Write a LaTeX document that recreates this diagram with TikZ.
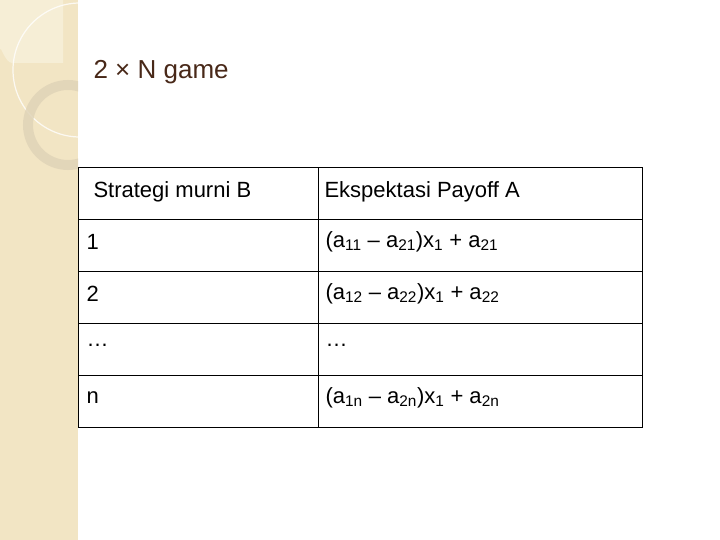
\documentclass[tikz,border=0pt]{standalone}
\usepackage{fontspec}
\setmainfont{Liberation Sans}
\definecolor{stripbg}{RGB}{242,229,196}
\definecolor{stripsq}{RGB}{246,238,214}
\definecolor{ringgray}{RGB}{224,212,184}
\definecolor{titlebrown}{RGB}{72,40,24}
\newcommand{\sbs}[1]{\textsubscript{#1}}
\begin{document}
\begin{tikzpicture}[x=1pt,y=-1pt,
	cell/.style={draw=black,line width=1pt,minimum width=240pt,minimum height=52pt,
		anchor=north west,inner sep=0pt},
	celltext/.style={anchor=west,font=\fontsize{22pt}{26pt}\selectfont}]
	\useasboundingbox (0,0) rectangle (720,540);
	%side strip
	\fill[stripbg] (0,0) rectangle (78,540);
	\begin{scope}
		\clip (0,0) rectangle (78,540);
		\fill[stripsq] (0,0) -- (63,0) -- (63,63) -- (12,63) to[out=180,in=90] (0,50) -- cycle;
		\draw[white,line width=1.2pt,opacity=.8] (80,70) circle (67);
		\draw[ringgray,line width=10pt,opacity=.85] (68,125) circle (40);
	\end{scope}
	%title
	\node[anchor=west,text=titlebrown,font=\fontsize{26pt}{30pt}\selectfont] (title) at (90,72) {2 × N game};
	%table
	\node[cell] (h1) at (78,167) {};
	\node[cell,minimum width=324pt] (h2) at (318,167) {};
	\node[celltext] at ([xshift=12pt,yshift=2pt]h1.west) {Strategi murni B};
	\node[celltext] at ([xshift=3pt,yshift=2pt]h2.west) {Ekspektasi Payoff A};
	\foreach \i/\a/\b in {1/1/{(a\sbs{11} – a\sbs{21})x\sbs{1} + a\sbs{21}},
		2/2/{(a\sbs{12} – a\sbs{22})x\sbs{1} + a\sbs{22}},
		3/\dots/\dots,
		4/n/{(a\sbs{1n} – a\sbs{2n})x\sbs{1} + a\sbs{2n}}}{
		\node[cell] (l\i) at (78,167+52*\i) {};
		\node[cell,minimum width=324pt] (r\i) at (318,167+52*\i) {};
		\node[celltext] at ([xshift=5pt,yshift=4pt]l\i.west) {\a};
		\node[celltext] at ([xshift=4pt,yshift=4pt]r\i.west) {\b};
	}
\end{tikzpicture}
\end{document}
